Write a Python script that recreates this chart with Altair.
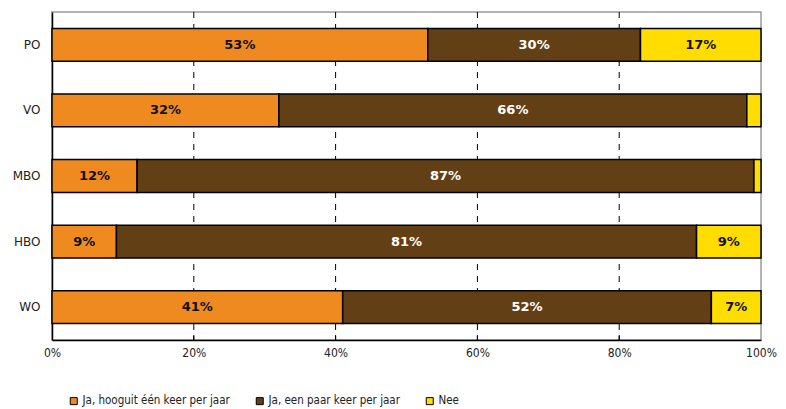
import altair as alt
import pandas as pd

categories = ["PO", "VO", "MBO", "HBO", "WO"]
series = ["Ja, hooguit één keer per jaar", "Ja, een paar keer per jaar", "Nee"]
once = [53, 32, 12, 9, 41]
few = [30, 66, 87, 81, 52]
nee = [17, 2, 1, 9, 7]
colors = ["#EE8A1F", "#633F16", "#FFDD00"]
text_colors = ["#111111", "#FFFFFF", "#111111"]
tick_vals = [0, 0.2, 0.4, 0.6, 0.8, 1.0]
grid_vals = [0.2, 0.4, 0.6, 0.8]

rows = []
for i, c in enumerate(categories):
    for j, vals in enumerate([once, few, nee]):
        rows.append({"cat": c, "serie": series[j], "order": j,
                     "value": vals[i], "tc": text_colors[j]})
df = pd.DataFrame(rows)
grid_df = pd.DataFrame({"g": grid_vals})

W, H = 709, 328
AX_FONT = "Liberation Sans Narrow, Arial Narrow, DejaVu Sans Condensed, Liberation Sans, sans-serif"

xscale = alt.Scale(domain=[0, 1], nice=False, zero=False)
yscale = alt.Scale(domain=categories, paddingInner=0.5, paddingOuter=0.25)
xaxis = alt.Axis(format="%", values=tick_vals, grid=False, ticks=False,
                 domainColor="black", domainWidth=1.5,
                 labelFont=AX_FONT, labelFontSize=12, labelColor="#222",
                 labelPadding=7, labelFlush=False, title=None)
yaxis = alt.Axis(ticks=False, domainColor="black", domainWidth=1.5,
                 labelFont="Verdana, DejaVu Sans, sans-serif", labelFontSize=12,
                 labelColor="#222", labelPadding=12, title=None)

grid = alt.Chart(grid_df).mark_rule(color="black", strokeWidth=1, strokeDash=[6, 6]).encode(
    x=alt.X("g:Q", scale=xscale, axis=xaxis, title=None),
    y=alt.value(0), y2=alt.value(H),
)
ticks = alt.Chart(grid_df).mark_rule(color="black", strokeWidth=1).encode(
    x=alt.X("g:Q", scale=xscale, axis=xaxis, title=None),
    y=alt.value(H - 5), y2=alt.value(H),
)

stacked = alt.Chart(df).transform_stack(
    stack="value", groupby=["cat"], as_=["x0", "x1"],
    sort=[alt.SortField("order")], offset="normalize",
).transform_calculate(mid="(datum.x0 + datum.x1) / 2", lbl="datum.value + '%'")

bars = stacked.mark_bar(stroke="black", strokeWidth=1.5).encode(
    x=alt.X("x0:Q", scale=xscale, axis=xaxis, title=None),
    x2="x1:Q",
    y=alt.Y("cat:N", scale=yscale, sort=categories, axis=yaxis, title=None),
    color=alt.Color("serie:N", scale=alt.Scale(domain=series, range=colors),
                    legend=alt.Legend(orient="none", legendX=16, legendY=383,
                                      direction="horizontal", title=None,
                                      symbolType="square", symbolSize=49,
                                      symbolStrokeColor="black", symbolStrokeWidth=1,
                                      symbolOpacity=1, labelFont=AX_FONT,
                                      labelFontSize=11.5, labelColor="#222",
                                      labelOffset=3, columnPadding=24, labelLimit=300)),
    order=alt.Order("order:Q"),
)

labels = stacked.transform_filter("datum.value >= 5").mark_text(
    font="DejaVu Sans, Verdana, sans-serif", fontWeight="bold", fontSize=13,
    baseline="middle", align="center",
).encode(
    x=alt.X("mid:Q", scale=xscale, axis=xaxis, title=None),
    y=alt.Y("cat:N", scale=yscale, sort=categories, axis=yaxis, title=None),
    text="lbl:N",
    color=alt.Color("tc:N", scale=None),
)

chart = alt.layer(grid, bars, ticks, labels).properties(
    width=W, height=H,
    autosize=alt.AutoSizeParams(type="none"),
    padding={"left": 44, "top": 4, "right": 17, "bottom": 68},
).configure_view(stroke="#9A9A9A", strokeWidth=1.5)

chart.save("out.html", embed_options={"renderer": "svg", "actions": False})
